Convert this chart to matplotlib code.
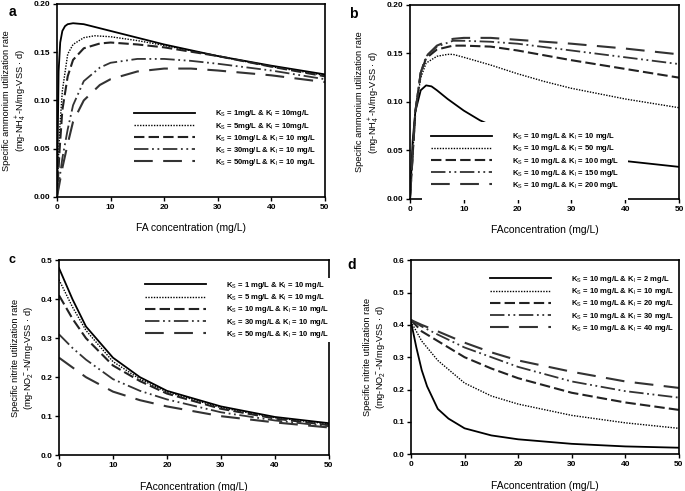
import matplotlib
matplotlib.use('Agg')
import matplotlib.pyplot as plt

plt.rcParams['font.family'] = ['Liberation Sans', 'DejaVu Sans']
plt.rcParams['mathtext.fontset'] = 'custom'
plt.rcParams['mathtext.rm'] = 'Liberation Sans'
plt.rcParams['mathtext.it'] = 'Liberation Sans'

# ---- panel a : ammonium, varying Ks ----
a_x1 = [0, 0.3, 0.6, 1, 1.5, 2, 3, 5, 10, 15, 20, 30, 40, 50]
a_y1 = [0, 0.13, 0.16, 0.172, 0.177, 0.179, 0.18, 0.179, 0.172, 0.165, 0.158, 0.146, 0.136, 0.127]
a_x2 = [0, 0.5, 1, 2, 3, 5, 7, 10, 15, 20, 30, 40, 50]
a_y2 = [0, 0.07, 0.11, 0.148, 0.158, 0.165, 0.167, 0.166, 0.162, 0.157, 0.146, 0.135, 0.126]
a_x3 = [0, 0.5, 1, 2, 3, 5, 8, 10, 15, 20, 30, 40, 50]
a_y3 = [0, 0.05, 0.09, 0.125, 0.142, 0.154, 0.159, 0.160, 0.158, 0.155, 0.146, 0.135, 0.125]
a_x4 = [0, 1, 2, 3, 5, 8, 10, 15, 20, 25, 30, 40, 50]
a_y4 = [0, 0.04, 0.07, 0.095, 0.12, 0.134, 0.139, 0.143, 0.143, 0.141, 0.138, 0.131, 0.122]
a_x5 = [0, 1, 2, 3, 5, 8, 10, 15, 20, 25, 30, 40, 50]
a_y5 = [0, 0.03, 0.055, 0.078, 0.10, 0.116, 0.122, 0.130, 0.133, 0.133, 0.131, 0.126, 0.119]
a_labels = ['K$_S$ = 1mg/L & K$_I$ = 10mg/L', 'K$_S$ = 5mg/L & K$_I$ = 10mg/L',
            'K$_S$ = 10mg/L & K$_I$ = 10 mg/L', 'K$_S$ = 30mg/L & K$_I$ = 10 mg/L',
            'K$_S$ = 50mg/L & K$_I$ = 10 mg/L']

# ---- panel b : ammonium, varying Ki ----
b_x1 = [0, 0.5, 1, 2, 3, 4, 5, 7, 10, 13, 15, 20, 25, 30, 35, 40, 45, 50]
b_y1 = [0, 0.06, 0.09, 0.112, 0.117, 0.116, 0.112, 0.103, 0.091, 0.081, 0.076, 0.063, 0.055, 0.048, 0.043, 0.039, 0.036, 0.033]
b_x2 = [0, 1, 2, 3, 5, 7, 8, 10, 15, 20, 25, 30, 40, 50]
b_y2 = [0, 0.09, 0.125, 0.14, 0.147, 0.149, 0.149, 0.146, 0.138, 0.129, 0.121, 0.114, 0.103, 0.094]
b_x3 = [0, 1, 2, 3, 5, 8, 10, 15, 20, 30, 40, 50]
b_y3 = [0, 0.09, 0.13, 0.145, 0.154, 0.158, 0.158, 0.157, 0.153, 0.143, 0.134, 0.125]
b_x4 = [0, 1, 2, 3, 5, 8, 10, 15, 20, 30, 40, 50]
b_y4 = [0, 0.09, 0.13, 0.147, 0.157, 0.163, 0.163, 0.162, 0.160, 0.153, 0.146, 0.139]
b_x5 = [0, 1, 2, 3, 5, 8, 10, 15, 20, 30, 40, 50]
b_y5 = [0, 0.09, 0.13, 0.147, 0.158, 0.165, 0.166, 0.166, 0.164, 0.160, 0.155, 0.149]
b_labels = ['K$_S$ = 10 mg/L & K$_I$ = 10 mg/L', 'K$_S$ = 10 mg/L & K$_I$ = 50 mg/L',
            'K$_S$ = 10 mg/L & K$_I$ = 100 mg/L', 'K$_S$ = 10 mg/L & K$_I$ = 150 mg/L',
            'K$_S$ = 10 mg/L & K$_I$ = 200 mg/L']

# ---- panel c : nitrite, varying Ks ----
c_x = [0, 2.5, 5, 10, 15, 20, 30, 40, 50]
c_y1 = [0.48, 0.40, 0.33, 0.25, 0.20, 0.165, 0.125, 0.098, 0.082]
c_y2 = [0.45, 0.38, 0.32, 0.24, 0.195, 0.162, 0.122, 0.096, 0.080]
c_y3 = [0.41, 0.35, 0.30, 0.23, 0.19, 0.158, 0.119, 0.094, 0.077]
c_y4 = [0.31, 0.275, 0.245, 0.195, 0.165, 0.143, 0.110, 0.089, 0.074]
c_y5 = [0.25, 0.225, 0.20, 0.163, 0.141, 0.125, 0.100, 0.084, 0.071]
c_labels = ['K$_S$ = 1 mg/L & K$_I$ = 10 mg/L', 'K$_S$ = 5 mg/L & K$_I$ = 10 mg/L',
            'K$_S$ = 10 mg/L & K$_I$ = 10 mg/L', 'K$_S$ = 30 mg/L & K$_I$ = 10 mg/L',
            'K$_S$ = 50 mg/L & K$_I$ = 10 mg/L']

# ---- panel d : nitrite, varying Ki ----
d_x1 = [0, 1, 2, 3, 5, 7, 10, 15, 20, 30, 40, 50]
d_y1 = [0.41, 0.33, 0.26, 0.21, 0.14, 0.11, 0.08, 0.058, 0.046, 0.032, 0.024, 0.02]
d_x = [0, 2, 5, 10, 15, 20, 30, 40, 50]
d_y2 = [0.41, 0.35, 0.29, 0.22, 0.18, 0.155, 0.12, 0.097, 0.08]
d_y3 = [0.415, 0.38, 0.35, 0.30, 0.265, 0.235, 0.19, 0.16, 0.137]
d_y4 = [0.415, 0.395, 0.37, 0.33, 0.30, 0.27, 0.225, 0.195, 0.175]
d_y5 = [0.415, 0.40, 0.38, 0.345, 0.315, 0.29, 0.255, 0.225, 0.205]
d_labels = ['K$_S$ = 10 mg/L & K$_I$ = 2 mg/L', 'K$_S$ = 10 mg/L & K$_I$ = 10 mg/L',
            'K$_S$ = 10 mg/L & K$_I$ = 20 mg/L', 'K$_S$ = 10 mg/L & K$_I$ = 30 mg/L',
            'K$_S$ = 10 mg/L & K$_I$ = 40 mg/L']

styles = [dict(ls='-', lw=1.3, color='black'),
          dict(ls=(0, (1, 1)), lw=1.0, color='black'),
          dict(ls=(0, (5, 2)), lw=1.5, color='#222222'),
          dict(ls=(0, (8, 2, 1, 2, 1, 2)), lw=1.3, color='#333333'),
          dict(ls=(0, (9, 5)), lw=1.5, color='#333333')]

amm_ylabel = 'Specific ammonium utilization rate\n(mg-NH$_4^+$-N/mg-VSS · d)'
nit_ylabel = 'Specific nitrite utilization rate\n(mg-NO$_2^-$-N/mg-VSS · d)'

fig = plt.figure(figsize=(6.85, 4.91), dpi=100)
ax_a = fig.add_axes([0.0832, 0.599, 0.391, 0.393])
ax_b = fig.add_axes([0.5985, 0.595, 0.3927, 0.395])
ax_c = fig.add_axes([0.0861, 0.073, 0.394, 0.397])
ax_d = fig.add_axes([0.600, 0.075, 0.391, 0.395])

# legend anchor and padding per panel (b has a white box hiding part of the solid curve)
panels = [
    (ax_a, [(a_x1, a_y1), (a_x2, a_y2), (a_x3, a_y3), (a_x4, a_y4), (a_x5, a_y5)],
     a_labels, 0.2, 0.05, '%.2f', amm_ylabel, 'FA concentration (mg/L)', (0.28, 0.47), 0.3),
    (ax_b, [(b_x1, b_y1), (b_x2, b_y2), (b_x3, b_y3), (b_x4, b_y4), (b_x5, b_y5)],
     b_labels, 0.2, 0.05, '%.2f', amm_ylabel, 'FAconcentration (mg/L)', (0.044, 0.396), 1.2),
    (ax_c, [(c_x, c_y1), (c_x, c_y2), (c_x, c_y3), (c_x, c_y4), (c_x, c_y5)],
     c_labels, 0.5, 0.1, '%.1f', nit_ylabel, 'FAconcentration (mg/L)', (0.31, 0.91), 0.3),
    (ax_d, [(d_x1, d_y1), (d_x, d_y2), (d_x, d_y3), (d_x, d_y4), (d_x, d_y5)],
     d_labels, 0.6, 0.1, '%.1f', nit_ylabel, 'FAconcentration (mg/L)', (0.285, 0.94), 0.3),
]

for ax, series, labels, ymax, ystep, fmt, ylab, xlab, legpos, bpad in panels:
    for (xs, ys), st, lab in zip(series, styles, labels):
        ax.plot(xs, ys, label=lab, **st)
    ax.set_xlim(0, 50)
    ax.set_ylim(0, ymax)
    ax.set_xticks(range(0, 51, 10))
    n = int(round(ymax / ystep))
    ax.set_yticks([i * ystep for i in range(n + 1)])
    ax.set_yticklabels([fmt % (i * ystep) for i in range(n + 1)])
    ax.tick_params(direction='out', length=3, width=1, labelsize=6, pad=2)
    for t in ax.get_xticklabels() + ax.get_yticklabels():
        t.set_fontweight('bold')
    for sp in ax.spines.values():
        sp.set_linewidth(1.2)
    ax.set_xlabel(xlab, fontsize=7.5, labelpad=9)
    ax.set_ylabel(ylab, fontsize=6.7, labelpad=3, linespacing=1.3)
    leg = ax.legend(loc='upper left', bbox_to_anchor=legpos, fontsize=5.5,
                    handlelength=8, handletextpad=2.6, labelspacing=0.15,
                    borderpad=bpad, borderaxespad=0, frameon=True, fancybox=False)
    leg.get_frame().set_edgecolor('none')
    leg.get_frame().set_facecolor('white')
    leg.get_frame().set_alpha(1)
    for t in leg.get_texts():
        t.set_fontweight('bold')

fig.text(0.012, 0.99, 'a', fontsize=10, fontweight='bold', va='top')
fig.text(0.510, 0.985, 'b', fontsize=10, fontweight='bold', va='top')
fig.text(0.012, 0.482, 'c', fontsize=9, fontweight='bold', va='top')
fig.text(0.507, 0.475, 'd', fontsize=10, fontweight='bold', va='top')

fig.savefig('out.png', dpi=100)
